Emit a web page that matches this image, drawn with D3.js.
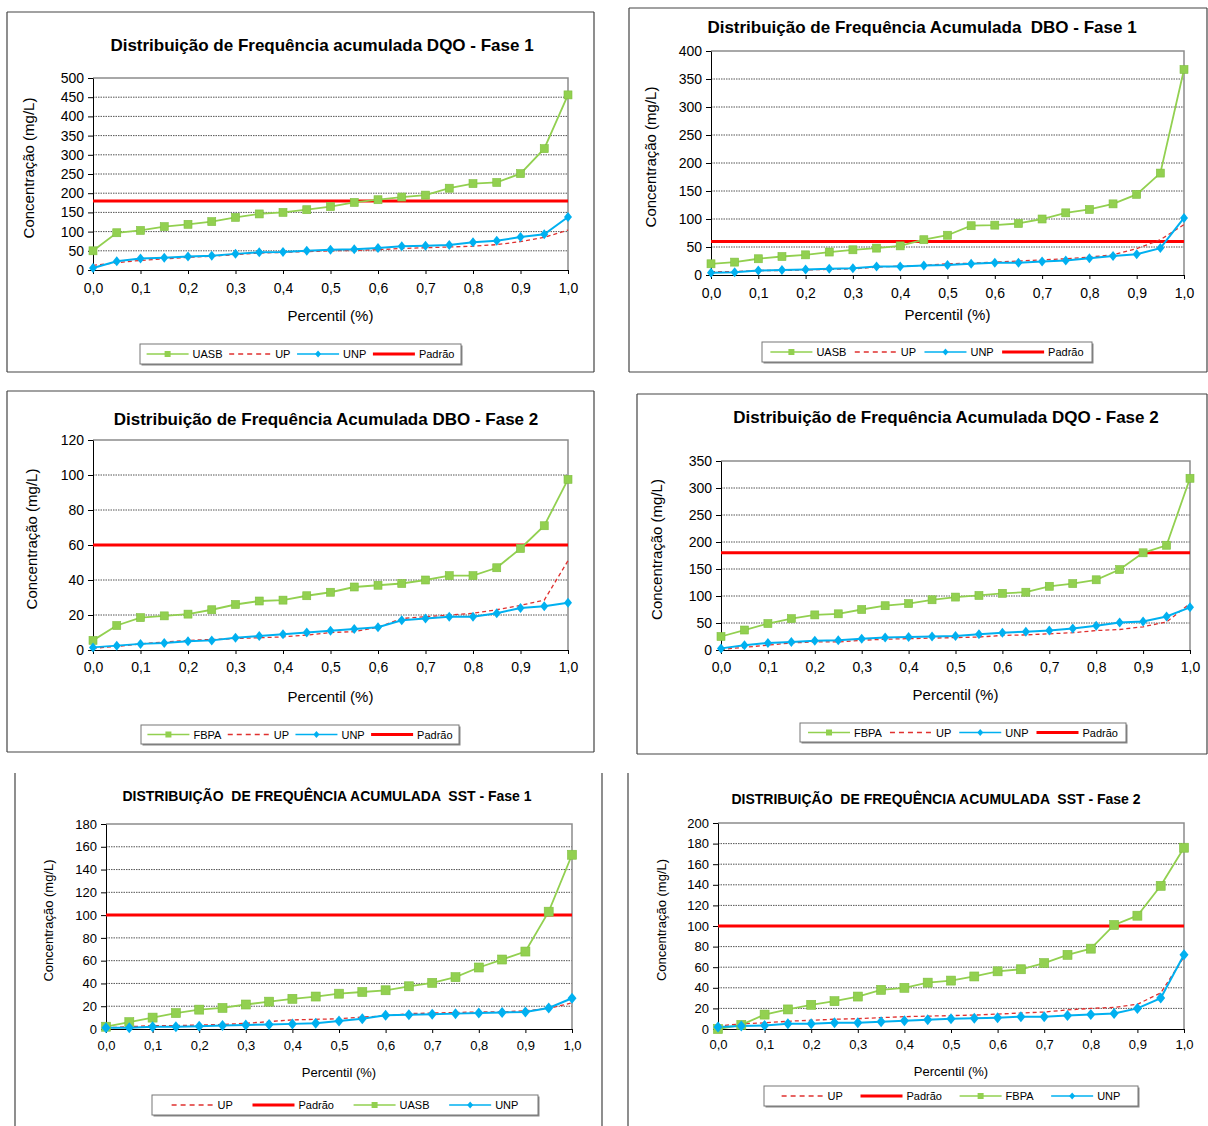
<!DOCTYPE html>
<html>
<head>
<meta charset="utf-8">
<script src="https://cdn.jsdelivr.net/npm/d3@7"></script>
<style>
  body { margin: 0; background: #fff; }
  svg { display: block; }
  text { font-family: "Liberation Sans", Arial, sans-serif; fill: #000; white-space: pre; }
</style>
</head>
<body>
<div id="chart"></div>
<script>
// data ---------------------------------------------------------------------------------------------
var percentis = [0, 0.05, 0.1, 0.15, 0.2, 0.25, 0.3, 0.35, 0.4, 0.45, 0.5, 0.55, 0.6, 0.65, 0.7, 0.75, 0.8, 0.85, 0.9, 0.95, 1.0];
var xTicks = [0, 0.1, 0.2, 0.3, 0.4, 0.5, 0.6, 0.7, 0.8, 0.9, 1.0];

// DQO - Fase 1
var dqo1UASB = [50, 97, 103, 113, 119, 126, 137, 146, 150, 157, 165, 176, 183, 190, 195, 213, 225, 228, 251, 316, 456];
var dqo1UP   = [12, 19, 25, 29, 33, 36, 40, 44, 46, 48, 50, 51, 53, 56, 58, 60, 62, 66, 74, 85, 104];
var dqo1UNP  = [5, 23, 30, 32, 35, 37, 42, 46, 47, 50, 53, 54, 57, 62, 63, 65, 72, 76, 86, 93, 138];
var dqo1Padrao = 180;

// DBO - Fase 1
var dbo1UASB = [20, 23, 29, 33, 36, 41, 45, 48, 52, 63, 71, 88, 89, 92, 100, 111, 117, 127, 144, 182, 367];
var dbo1UP   = [6, 6, 8, 8, 9, 10, 11, 14, 16, 17, 20, 21, 23, 25, 27, 29, 32, 36, 47, 63, 90];
var dbo1UNP  = [4, 5, 8, 9, 10, 11, 12, 15, 15, 17, 18, 20, 22, 22, 24, 26, 30, 34, 37, 48, 102];
var dbo1Padrao = 60;

// DBO - Fase 2
var dbo2FBPA = [5.5, 14, 18.5, 19.5, 20.5, 23, 26, 28, 28.5, 31, 33, 36, 37, 38, 40, 42.5, 42.5, 47, 58, 71, 97.5];
var dbo2UP   = [1, 2, 3.5, 4.5, 5.5, 6, 6.5, 7, 7.5, 8.5, 10, 10.5, 13, 18, 19, 20, 21, 23, 25.5, 28.5, 51];
var dbo2UNP  = [1.5, 2.5, 3.5, 4, 5, 5.5, 7, 8, 9, 10, 11, 12, 13, 17, 18, 19, 19, 21, 24, 25, 27];
var dbo2Padrao = 60;

// DQO - Fase 2
var dqo2FBPA = [25, 37, 49, 58, 65, 67, 75, 82, 86, 93, 98, 101, 105, 107, 118, 123, 130, 149, 180, 194, 318];
var dqo2UP   = [1, 5, 9, 13, 15, 15, 18, 20, 21, 22, 23, 24, 27, 28, 30, 32, 36, 38, 43, 52, 86];
var dqo2UNP  = [3, 9, 13, 15, 17, 18, 21, 23, 24, 25, 26, 29, 32, 34, 36, 40, 45, 51, 53, 62, 79];
var dqo2Padrao = 180;

// SST - Fase 1
var sst1UASB = [2, 6, 10, 14, 17, 18.5, 21.5, 24, 26.5, 28.5, 31, 32.5, 34, 37.5, 40.5, 45.5, 54, 61, 68, 103, 153];
var sst1UP   = [1, 2, 3, 3, 3.5, 4, 5, 6.5, 8, 8.5, 9, 10.5, 11.5, 13.5, 14, 14.5, 15, 15, 16, 18, 23];
var sst1UNP  = [1, 1, 2, 2, 2.5, 3, 3.5, 4, 4.5, 5, 7, 9, 12, 12.5, 13, 13.5, 14, 14.5, 15, 18.5, 27];
var sst1Padrao = 100;

// SST - Fase 2
var sst2FBPA = [0, 4, 14, 19, 23.5, 27, 31.5, 38, 40, 45, 47, 51, 56, 58, 64, 72, 78, 101, 110, 139, 176];
var sst2UP   = [3, 5, 6, 7.5, 8.5, 9.5, 10, 11, 12, 12.5, 13, 13.5, 14.5, 15.5, 16.5, 18.5, 20, 21, 24, 35, 70];
var sst2UNP  = [2, 3, 3.5, 5, 5, 6, 6, 7, 8, 9, 10, 10.5, 11, 12, 12, 13, 14, 15, 20, 30, 72];
var sst2Padrao = 100;

// colours ------------------------------------------------------------------------------------------
var green = "#92D050", greenDark = "#7fbf3f", blue = "#00B0F0", red = "#FF0000", upRed = "#E0302F";

// panel layout -------------------------------------------------------------------------------------
var topFont = {title: 17, tick: 14, axis: 15, legend: 11};
var botFont = {title: 14, tick: 13, axis: 13, legend: 11};

var panels = [
  {title: "Distribuição de Frequência acumulada DQO - Fase 1", frame: {x0: 7, y0: 12, x1: 594, y1: 372, sides: "tlrb"},
   plot: [93, 78, 568, 270], yMax: 500, yStep: 50, green: "UASB", greenData: dqo1UASB, up: dqo1UP, unp: dqo1UNP, padrao: dqo1Padrao,
   order: ["green", "up", "unp", "padrao"], legend: [140, 344, 321, 20], font: topFont,
   titleX: 322, titleY: 51, xLabY: 293, xTitleY: 321, yTitleX: 34},
  {title: "Distribuição de Frequência Acumulada  DBO - Fase 1", frame: {x0: 629, y0: 8, x1: 1207, y1: 372, sides: "tlrb"},
   plot: [711, 51, 1184, 275], yMax: 400, yStep: 50, green: "UASB", greenData: dbo1UASB, up: dbo1UP, unp: dbo1UNP, padrao: dbo1Padrao,
   order: ["green", "up", "unp", "padrao"], legend: [762, 342, 330, 20], font: topFont,
   titleX: 922, titleY: 33, xLabY: 298, xTitleY: 320, yTitleX: 656},
  {title: "Distribuição de Frequência Acumulada DBO - Fase 2", frame: {x0: 7, y0: 391, x1: 594, y1: 752, sides: "tlrb"},
   plot: [93, 440, 568, 650], yMax: 120, yStep: 20, green: "FBPA", greenData: dbo2FBPA, up: dbo2UP, unp: dbo2UNP, padrao: dbo2Padrao,
   order: ["green", "up", "unp", "padrao"], legend: [141, 725, 318, 19], font: topFont,
   titleX: 326, titleY: 425, xLabY: 672, xTitleY: 702, yTitleX: 37},
  {title: "Distribuição de Frequência Acumulada DQO - Fase 2", frame: {x0: 637, y0: 394, x1: 1207, y1: 754, sides: "tlrb"},
   plot: [721, 461, 1190, 650], yMax: 350, yStep: 50, green: "FBPA", greenData: dqo2FBPA, up: dqo2UP, unp: dqo2UNP, padrao: dqo2Padrao,
   order: ["green", "up", "unp", "padrao"], legend: [800, 723, 326, 19], font: topFont,
   titleX: 946, titleY: 423, xLabY: 672, xTitleY: 700, yTitleX: 662},
  {title: "DISTRIBUIÇÃO  DE FREQUÊNCIA ACUMULADA  SST - Fase 1", frame: {x0: 15, y0: 773, x1: 602, y1: 1126, sides: "lr"},
   plot: [106, 824, 572, 1029], yMax: 180, yStep: 20, green: "UASB", greenData: sst1UASB, up: sst1UP, unp: sst1UNP, padrao: sst1Padrao,
   order: ["up", "padrao", "green", "unp"], legend: [152, 1095, 386, 20], font: botFont,
   titleX: 327, titleY: 801, xLabY: 1050, xTitleY: 1077, yTitleX: 53},
  {title: "DISTRIBUIÇÃO  DE FREQUÊNCIA ACUMULADA  SST - Fase 2", frame: {x0: 628, y0: 773, x1: 1208, y1: 1126, sides: "l"},
   plot: [718, 823, 1184, 1029], yMax: 200, yStep: 20, green: "FBPA", greenData: sst2FBPA, up: sst2UP, unp: sst2UNP, padrao: sst2Padrao,
   order: ["up", "padrao", "green", "unp"], legend: [764, 1086, 374, 20], font: botFont,
   titleX: 936, titleY: 804, xLabY: 1049, xTitleY: 1076, yTitleX: 666}
];

var svg = d3.select("#chart").append("svg")
  .attr("width", 1208)
  .attr("height", 1126);

var fmtX = function(d) { return d3.format(".1f")(d).replace(".", ","); };

function drawPanel(p) {
  var g = svg.append("g");
  var f = p.frame;

  // frame
  var fr = g.append("g").attr("stroke", "#444").attr("stroke-width", 1.2);
  if (p.frame.sides.indexOf("t") >= 0) fr.append("line").attr("x1", f.x0).attr("x2", f.x1).attr("y1", f.y0).attr("y2", f.y0);
  if (p.frame.sides.indexOf("b") >= 0) fr.append("line").attr("x1", f.x0).attr("x2", f.x1).attr("y1", f.y1).attr("y2", f.y1);
  if (p.frame.sides.indexOf("l") >= 0) fr.append("line").attr("x1", f.x0).attr("x2", f.x0).attr("y1", f.y0).attr("y2", f.y1);
  if (p.frame.sides.indexOf("r") >= 0) fr.append("line").attr("x1", f.x1).attr("x2", f.x1).attr("y1", f.y0).attr("y2", f.y1);

  var x0 = p.plot[0], y0 = p.plot[1], x1 = p.plot[2], y1 = p.plot[3];
  var x = d3.scaleLinear().domain([0, 1]).range([x0, x1]);
  var y = d3.scaleLinear().domain([0, p.yMax]).range([y1, y0]);
  var yTicks = d3.range(0, p.yMax + p.yStep / 2, p.yStep);

  // grid
  g.append("g").selectAll("line")
    .data(yTicks.filter(function(d) { return d > 0 && d < p.yMax; }))
    .enter().append("line")
      .attr("x1", x0).attr("x2", x1)
      .attr("y1", function(d) { return y(d); })
      .attr("y2", function(d) { return y(d); })
      .attr("stroke", "#555")
      .attr("stroke-width", 1)
      .attr("stroke-dasharray", "1.5,1");

  // plot border (top & right)
  g.append("path")
    .attr("d", "M" + x0 + "," + y0 + "H" + x1 + "V" + y1)
    .attr("fill", "none")
    .attr("stroke", "#8c8c8c")
    .attr("stroke-width", 1.5);

  // axes
  var yAxis = g.append("g")
    .attr("transform", "translate(" + x0 + ",0)")
    .call(d3.axisLeft(y).tickValues(yTicks).tickSize(5).tickPadding(4).tickSizeOuter(0));
  yAxis.select(".domain").attr("stroke", "#000");
  yAxis.selectAll("text").style("font-size", p.font.tick + "px").attr("fill", "#000");

  var xAxis = g.append("g")
    .attr("transform", "translate(0," + y1 + ")")
    .call(d3.axisBottom(x).tickValues(xTicks).tickFormat(fmtX).tickSize(4).tickSizeOuter(0));
  xAxis.select(".domain").attr("stroke", "#000");
  xAxis.selectAll("text").attr("y", null).attr("dy", null)
    .attr("transform", "translate(0," + (p.xLabY - y1) + ")")
    .style("font-size", p.font.tick + "px").attr("fill", "#000");

  // titles
  g.append("text")
    .attr("x", p.titleX).attr("y", p.titleY)
    .attr("text-anchor", "middle")
    .style("font-weight", "bold")
    .style("font-size", p.font.title + "px")
    .text(p.title);

  g.append("text")
    .attr("x", (x0 + x1) / 2).attr("y", p.xTitleY)
    .attr("text-anchor", "middle")
    .style("font-size", p.font.axis + "px")
    .text("Percentil (%)");

  g.append("text")
    .attr("transform", "translate(" + p.yTitleX + "," + ((y0 + y1) / 2 - 6) + ") rotate(-90)")
    .attr("text-anchor", "middle")
    .style("font-size", p.font.axis + "px")
    .text("Concentração (mg/L)");

  // series
  var pts = function(arr) { return arr.map(function(v, i) { return [percentis[i], v]; }); };
  var line = d3.line().x(function(d) { return x(d[0]); }).y(function(d) { return y(d[1]); });

  g.append("line")
    .attr("x1", x0).attr("x2", x1)
    .attr("y1", y(p.padrao)).attr("y2", y(p.padrao))
    .attr("stroke", red).attr("stroke-width", 3);

  g.append("path").datum(pts(p.up)).attr("d", line)
    .attr("fill", "none").attr("stroke", upRed).attr("stroke-width", 1.3).attr("stroke-dasharray", "4,3");

  g.append("path").datum(pts(p.greenData)).attr("d", line)
    .attr("fill", "none").attr("stroke", green).attr("stroke-width", 1.8);

  g.append("path").datum(pts(p.unp)).attr("d", line)
    .attr("fill", "none").attr("stroke", blue).attr("stroke-width", 2);

  var ms = p.font === topFont ? 8 : 9;
  g.append("g").selectAll("rect").data(pts(p.greenData)).enter().append("rect")
    .attr("x", function(d) { return x(d[0]) - ms / 2; })
    .attr("y", function(d) { return y(d[1]) - ms / 2; })
    .attr("width", ms).attr("height", ms)
    .attr("fill", green).attr("stroke", greenDark).attr("stroke-width", 0.6);

  var dm = ms / 2 + 1;
  g.append("g").selectAll("path").data(pts(p.unp)).enter().append("path")
    .attr("transform", function(d) { return "translate(" + x(d[0]) + "," + y(d[1]) + ")"; })
    .attr("d", "M0," + (-dm) + "L" + (dm - 1) + ",0L0," + dm + "L" + (-(dm - 1)) + ",0Z")
    .attr("fill", blue);

  // legend
  var L = p.legend;
  var lg = g.append("g");
  lg.append("rect").attr("x", L[0] + 1.5).attr("y", L[1] + 1.5).attr("width", L[2]).attr("height", L[3])
    .attr("fill", "#888");
  lg.append("rect").attr("x", L[0]).attr("y", L[1]).attr("width", L[2]).attr("height", L[3])
    .attr("fill", "#fff").attr("stroke", "#777").attr("stroke-width", 1);

  var labels = {green: p.green, up: "UP", unp: "UNP", padrao: "Padrão"};
  var sample = 42, gap = 4;
  var items = p.order.map(function(k) {
    var t = lg.append("text").style("font-size", p.font.legend + "px").attr("fill", "#222").text(labels[k]);
    return {key: k, t: t, w: t.node().getComputedTextLength()};
  });
  var content = d3.sum(items, function(d) { return sample + gap + d.w; });
  var space = (L[2] - content) / (items.length + 1);
  var cx = L[0] + space, cy = L[1] + L[3] / 2;
  items.forEach(function(it) {
    var sx = cx, ex = cx + sample;
    if (it.key === "green") {
      lg.append("line").attr("x1", sx).attr("x2", ex).attr("y1", cy).attr("y2", cy).attr("stroke", green).attr("stroke-width", 1.5);
      lg.append("rect").attr("x", (sx + ex) / 2 - 3).attr("y", cy - 3).attr("width", 6).attr("height", 6).attr("fill", green);
    } else if (it.key === "unp") {
      lg.append("line").attr("x1", sx).attr("x2", ex).attr("y1", cy).attr("y2", cy).attr("stroke", blue).attr("stroke-width", 1.5);
      lg.append("path").attr("transform", "translate(" + (sx + ex) / 2 + "," + cy + ")")
        .attr("d", "M0,-3.5L3,0L0,3.5L-3,0Z").attr("fill", blue);
    } else if (it.key === "up") {
      lg.append("line").attr("x1", sx).attr("x2", ex).attr("y1", cy).attr("y2", cy).attr("stroke", upRed)
        .attr("stroke-width", 1.3).attr("stroke-dasharray", "5,4");
    } else {
      lg.append("line").attr("x1", sx).attr("x2", ex).attr("y1", cy).attr("y2", cy).attr("stroke", red).attr("stroke-width", 3);
    }
    it.t.attr("x", ex + gap).attr("y", cy + 4);
    cx = ex + gap + it.w + space;
  });
}

panels.forEach(drawPanel);
</script>
</body>
</html>
